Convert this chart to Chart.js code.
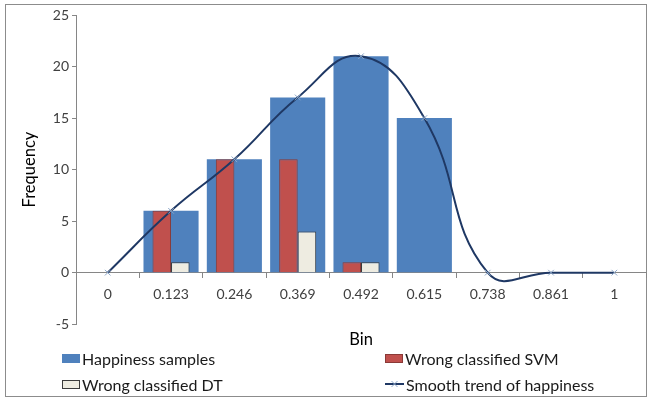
<!DOCTYPE html>
<html>
<head>
<meta charset="utf-8">
<script src="https://cdn.jsdelivr.net/npm/chart.js@4.4.6/dist/chart.umd.min.js"></script>
<style>
  html, body { margin: 0; padding: 0; background: #fff; }
  #frame {
    position: absolute; left: 5px; top: 4px; width: 642px; height: 393px;
    border: 1px solid #8c8c8c; box-sizing: border-box;
  }
  #wrap { position: absolute; left: 0; top: 0; width: 651px; height: 350px; }
  #legend {
    position: absolute; left: 62px; top: 348px; width: 570px;
    display: grid; grid-template-columns: 323px 245px; row-gap: 6px;
    font-family: Lato, "Liberation Sans", sans-serif; font-size: 16px; color: #1a1a1a;
  }
  .item { display: flex; align-items: center; height: 20px; }
  .swatch { width: 18px; height: 9px; box-sizing: border-box; margin-right: 2px; }
  .lineKey { width: 19px; height: 10px; margin-right: 2px; display: inline-flex; }
</style>
</head>
<body>
<div id="frame"></div>
<div id="wrap"><canvas id="chart"></canvas></div>
<div id="legend"></div>
<script>
/* bins on the x axis */
const bins = ["0", "0.123", "0.246", "0.369", "0.492", "0.615", "0.738", "0.861", "1"];

/* series values */
const happiness = [0, 6, 11, 17, 21, 15, 0, 0, 0];
const wrongSVM = [0, 6, 11, 11, 1, 0, 0, 0, 0];
const wrongDT = [0, 1, 0, 4, 1, 0, 0, 0, 0];
const trend = [0, 6, 11, 17, 21, 15, 0, 0, 0];

const yTicks = [-5, 0, 5, 10, 15, 20, 25];

/* colours */
const blue = "#4f81bd";
const red = "#c0504d";
const cream = "#eeece1";
const navy = "#1f3864";
const tickGray = "#404040";
const axisGray = "#868686";

const font = "Lato, 'Liberation Sans', sans-serif";

const config = {
  type: "bar",
  data: {
    labels: bins,
    datasets: [
      {
        type: "line",
        label: "Smooth trend of happiness",
        data: trend,
        borderColor: navy,
        borderWidth: 2,
        tension: 0.45,
        pointStyle: "crossRot",
        pointRadius: 4,
        pointBorderColor: "#8da7c8",
        pointBorderWidth: 1,
        fill: false,
        order: 0,
      },
      {
        label: "Wrong classified SVM",
        data: wrongSVM,
        backgroundColor: red,
        borderColor: "#8a3a37",
        borderWidth: 1,
        categoryPercentage: 0.585,
        barPercentage: 1,
        order: 1,
      },
      {
        label: "Wrong classified DT",
        data: wrongDT,
        backgroundColor: cream,
        borderColor: "#3b3b3b",
        borderWidth: 1,
        categoryPercentage: 0.585,
        barPercentage: 1,
        order: 1,
      },
      {
        label: "Happiness samples",
        data: happiness,
        backgroundColor: blue,
        borderWidth: 0,
        grouped: false, // wide bar behind the two narrow ones
        categoryPercentage: 1,
        barPercentage: 0.87,
        order: 2,
      },
    ],
  },
  options: {
    responsive: true,
    maintainAspectRatio: false,
    animation: false,
    layout: { padding: { left: 20, right: 2, top: 15, bottom: 0 } },
    plugins: {
      legend: { display: false },
      tooltip: { enabled: false },
    },
    scales: {
      y: {
        min: -5,
        max: 25,
        afterBuildTicks: (axis) => { axis.ticks = yTicks.map((v) => ({ value: v })); },
        ticks: { color: tickGray, font: { family: font, size: 14 }, padding: 3 },
        grid: { display: true, drawOnChartArea: false, drawTicks: true, tickLength: 4, color: axisGray },
        border: { display: true, color: axisGray },
        title: {
          display: true, text: "Frequency", color: "#000",
          font: { family: font, size: 16.5 }, padding: { top: 0, bottom: 10 },
        },
      },
      x: {
        type: "category",
        position: { y: 0 },
        offset: true,
        ticks: { color: tickGray, font: { family: font, size: 14 }, padding: 8 },
        grid: { display: true, drawOnChartArea: false, offset: true, tickLength: 5, color: axisGray },
        border: { display: true, color: axisGray },
      },
      x2: {
        type: "category",
        position: "bottom",
        offset: true,
        ticks: { display: false },
        grid: { display: false, drawTicks: false },
        border: { display: false },
        title: {
          display: true, text: "Bin", color: "#000",
          font: { family: font, size: 16.5 }, padding: { top: 6, bottom: 0 },
        },
      },
    },
  },
};

new Chart(document.getElementById("chart"), config);

/* legend in two columns, built from the datasets */
const legendOrder = ["Happiness samples", "Wrong classified SVM", "Wrong classified DT", "Smooth trend of happiness"];
const legend = document.getElementById("legend");
legendOrder.forEach((name) => {
  const ds = config.data.datasets.find((d) => d.label === name);
  const item = document.createElement("div");
  item.className = "item";
  const key = document.createElement("span");
  if (ds.type === "line") {
    key.className = "lineKey";
    key.innerHTML =
      '<svg width="19" height="10"><line x1="0" y1="5" x2="19" y2="5" stroke="' + navy + '" stroke-width="2"/>' +
      '<line x1="6.5" y1="2" x2="12.5" y2="8" stroke="#8da7c8"/><line x1="6.5" y1="8" x2="12.5" y2="2" stroke="#8da7c8"/></svg>';
  } else {
    key.className = "swatch";
    key.style.background = ds.backgroundColor;
    if (ds.borderWidth) key.style.border = "1px solid " + ds.borderColor;
  }
  const text = document.createElement("span");
  text.textContent = name;
  item.appendChild(key);
  item.appendChild(text);
  legend.appendChild(item);
});
</script>
</body>
</html>
